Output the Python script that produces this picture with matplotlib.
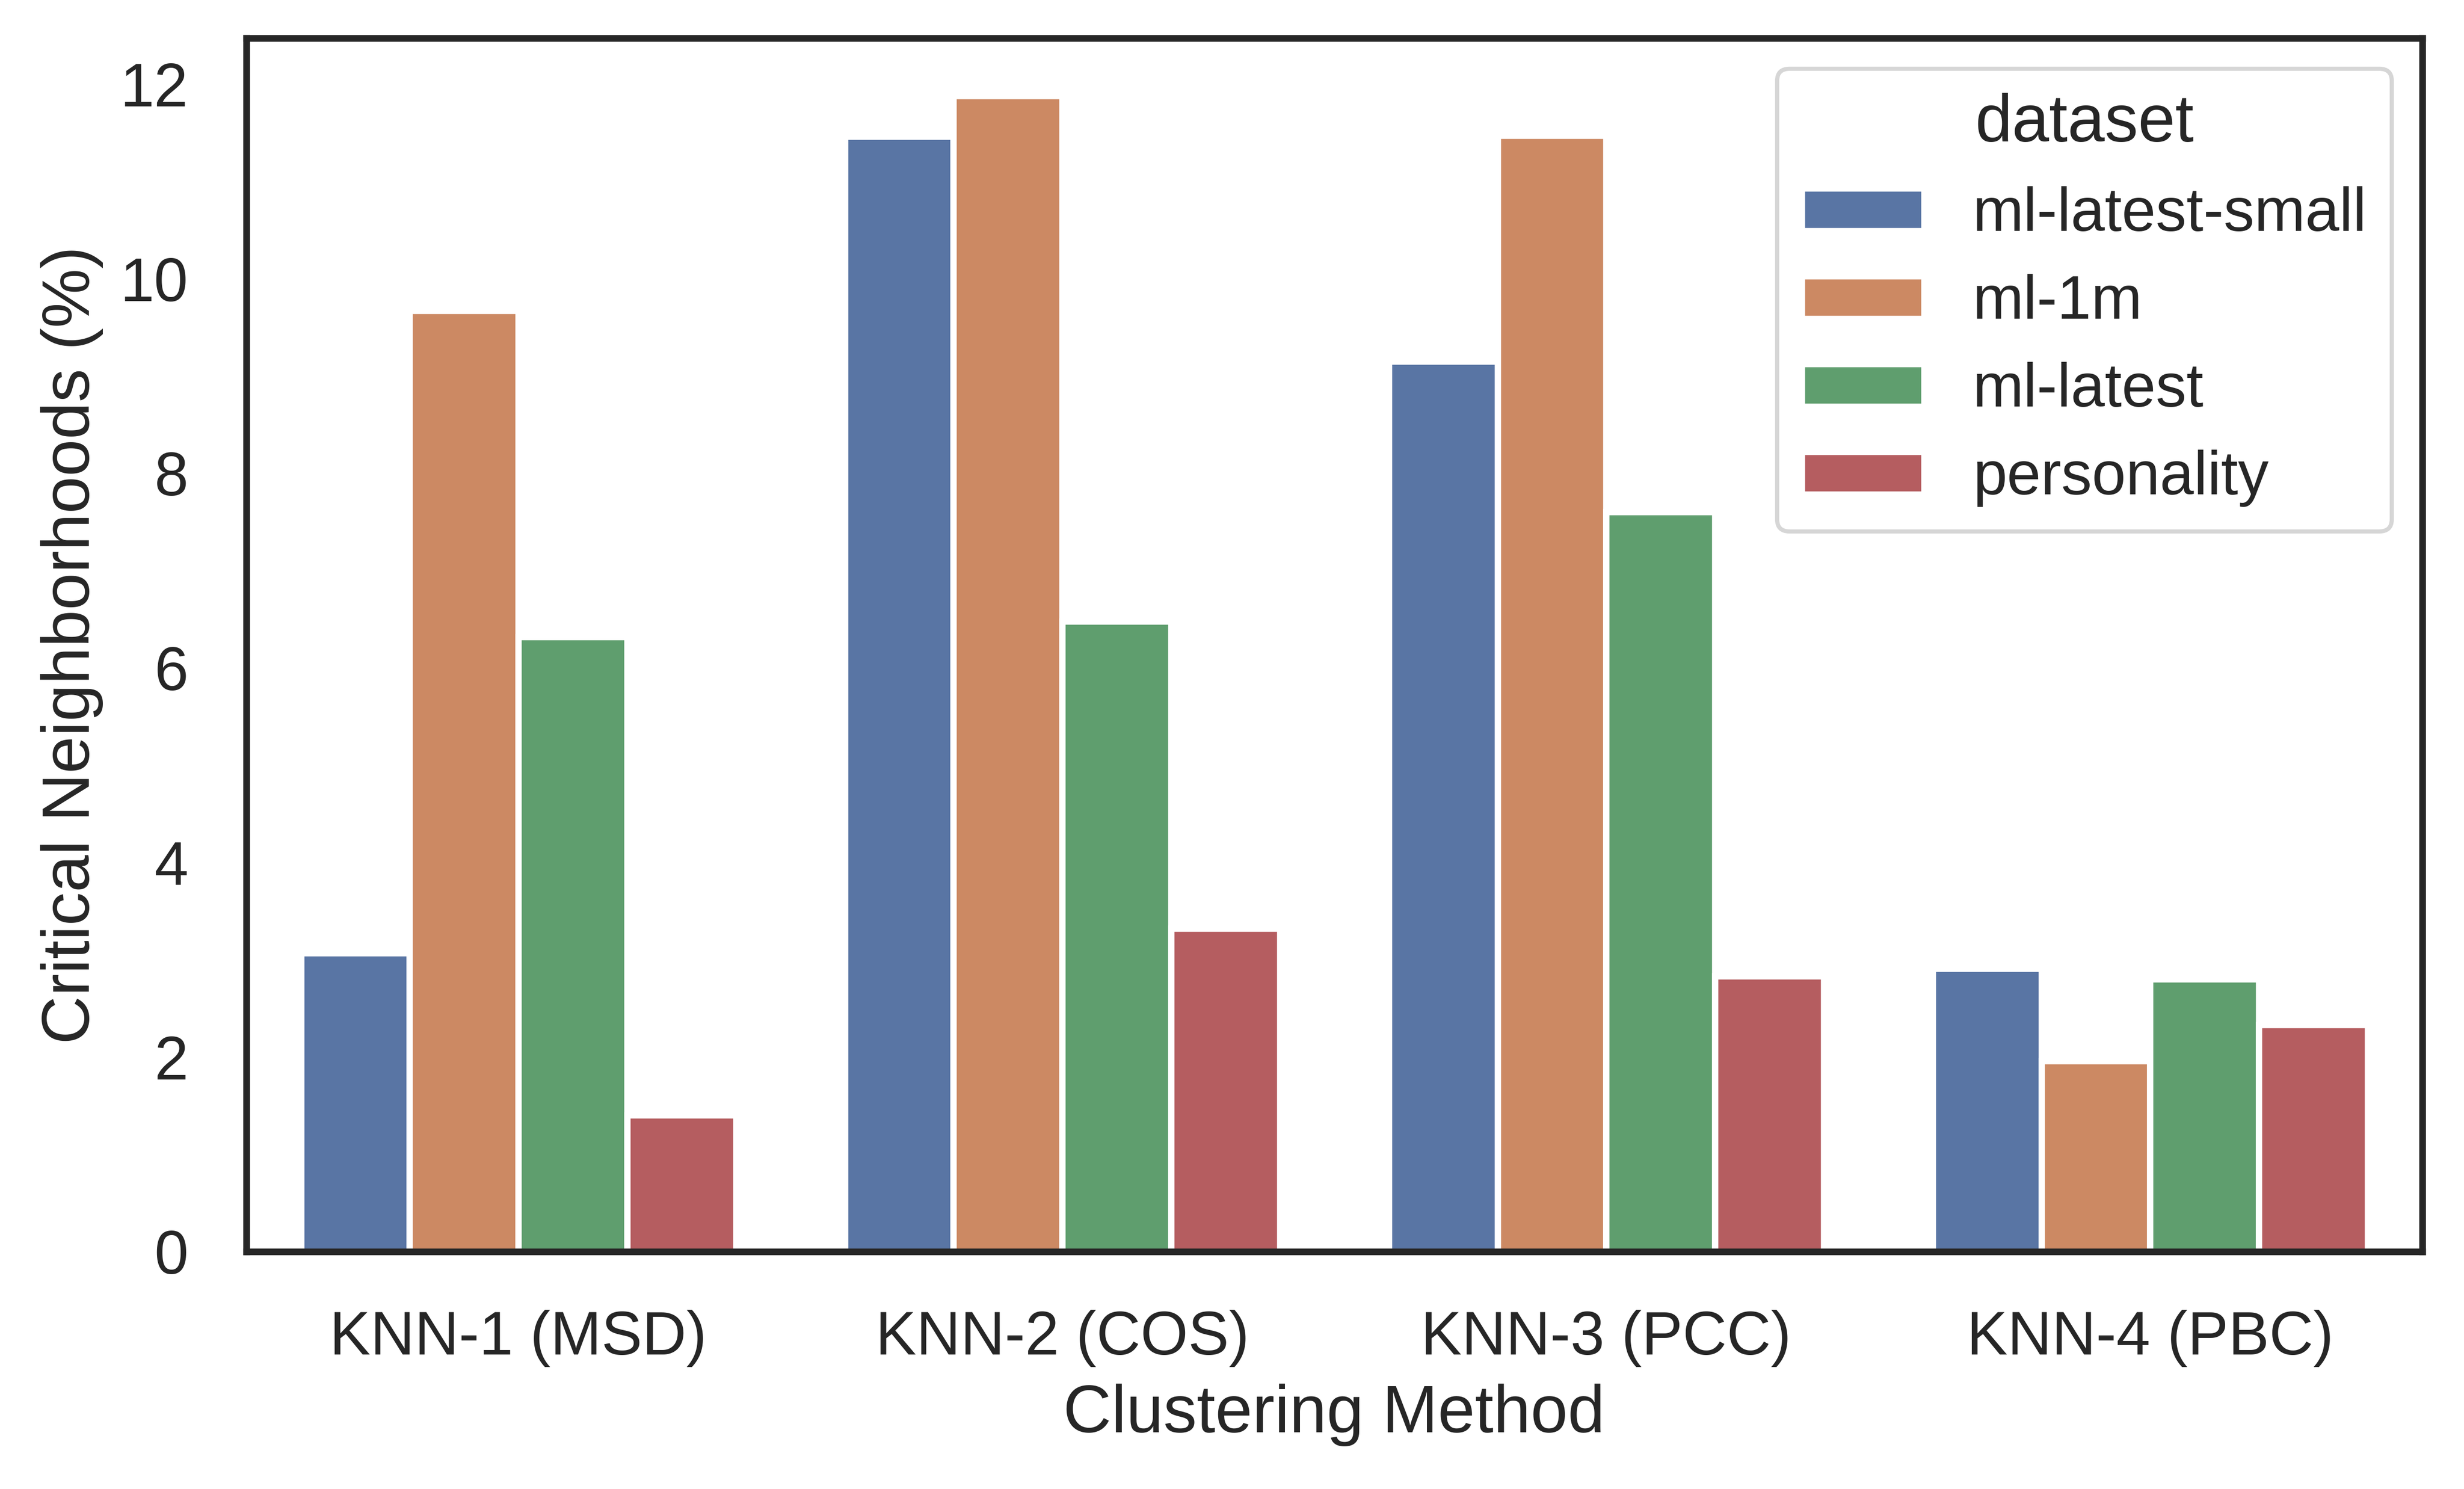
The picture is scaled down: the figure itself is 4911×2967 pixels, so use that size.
import numpy as np
import matplotlib
matplotlib.use("Agg")
import matplotlib.pyplot as plt
import seaborn as sns

methods = ["KNN-1 (MSD)", "KNN-2 (COS)", "KNN-3 (PCC)", "KNN-4 (PBC)"]
datasets = ["ml-latest-small", "ml-1m", "ml-latest", "personality"]

# critical neighborhoods (%) per dataset, one value per clustering method
ml_latest_small = [3.07, 11.46, 9.15, 2.91]
ml_1m = [9.67, 11.88, 11.47, 1.96]
ml_latest = [6.32, 6.48, 7.60, 2.80]
personality = [1.40, 3.32, 2.83, 2.33]

sns.set_theme(style="white", font_scale=1.33)
plt.rcParams["font.family"] = ["Liberation Sans", "DejaVu Sans"]

fig = plt.figure(figsize=(4911 / 600, 2967 / 600), dpi=600)
ax = fig.add_axes([0.1, 0.1595, 0.883, 0.815])

series = [ml_latest_small, ml_1m, ml_latest, personality]
colors = [sns.desaturate(c, 0.75) for c in sns.color_palette("deep", 4)]
x = np.arange(len(methods))
n = len(series)
w = 0.8 / n
for i, (vals, name) in enumerate(zip(series, datasets)):
    ax.bar(x - 0.4 + w * (i + 0.5), vals, width=w, color=colors[i],
           edgecolor="white", linewidth=1.5, label=name)

ax.set_xlim(-0.5, 3.5)
ax.set_ylim(0, max(max(s) for s in series) * 1.05)
ax.set_xticks(x)
ax.set_xticklabels(methods)
ax.tick_params(axis="both", pad=7.9)
ax.set_xlabel("Clustering Method")
ax.set_ylabel("Critical Neighborhoods (%)")
for sp in ax.spines.values():
    sp.set_linewidth(1.6)
    sp.set_color(".15")

ax.legend(title="dataset", loc="upper right")

fig.savefig("out.png", dpi=600)
